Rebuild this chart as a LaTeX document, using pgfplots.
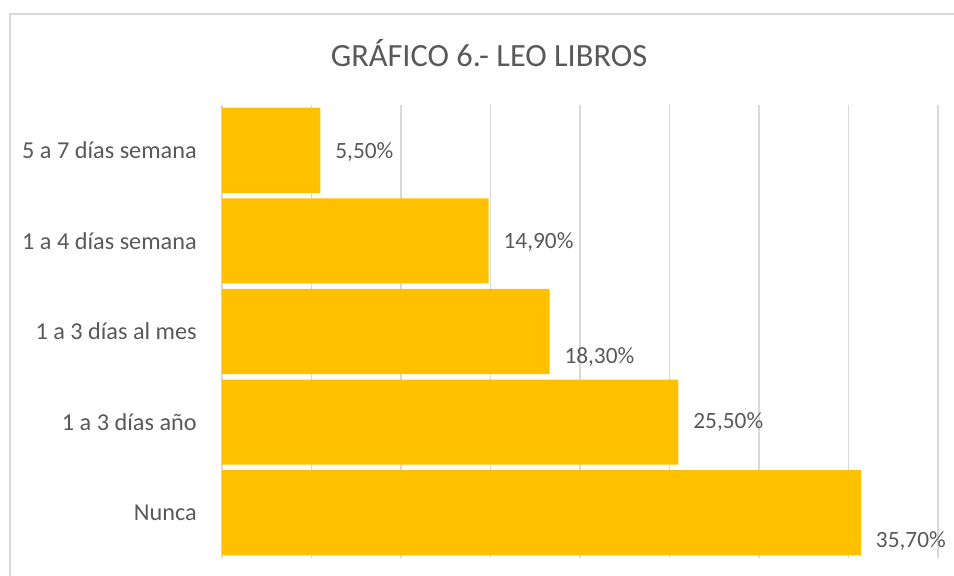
\documentclass[border=0pt]{standalone}
\usepackage{pgfplots}
\usepackage{pgfplotstable}
\pgfplotsset{compat=1.18}
\usepackage{fontspec}
\setmainfont{Carlito}
\definecolor{bargold}{HTML}{FFC000}
\definecolor{txtgray}{HTML}{595959}
\definecolor{gridgray}{HTML}{D9D9D9}

% pos 0 = Nunca (bottom) ... 4 = 5 a 7 dias (top); dy = label offset
\pgfplotstableread{
pos val dy
0 35.7 -21
1 25.5 0
2 18.3 -19
3 14.9 -1
4 5.5 -1.5
}\leo

\begin{document}
\begin{tikzpicture}
\useasboundingbox (-166.5bp,-13.5bp) rectangle (549bp,418.5bp);
\draw[gridgray, line width=1bp] (-159bp,-13.5bp) -- (-159bp,408bp) -- (549bp,408bp);
\node[anchor=base, text=txtgray, font=\fontsize{24.3bp}{28bp}\selectfont]
  at (200.25bp,368.25bp) {GRÁFICO 6.- LEO LIBROS};
\begin{axis}[
  at={(0,0)}, anchor=south west,
  scale only axis, width=537bp, height=339.75bp,
  xbar, bar width=0.94,
  xmin=0, xmax=40, ymin=-0.5, ymax=4.5,
  enlargelimits=false, clip=false,
  xtick={0,5,...,40}, xticklabels={},
  ytick={0,1,2,3,4},
  yticklabels={Nunca,1 a 3 días año,1 a 3 días al mes,1 a 4 días semana,5 a 7 días semana},
  major tick length=0pt,
  axis line style={draw=none},
  xmajorgrids, grid style={gridgray, line width=1bp},
  /pgf/number format/assume math mode=true,
  yticklabel style={text=txtgray, font=\fontsize{18.2bp}{20bp}\selectfont,
    anchor=east, inner sep=0pt, xshift=-18.75bp},
  point meta=x,
  visualization depends on={\thisrow{dy} \as \dy},
  nodes near coords={\pgfmathprintnumber[fixed,fixed zerofill,precision=2,use comma]{\pgfplotspointmeta}\%},
  every node near coord/.append style={text=txtgray, font=\fontsize{17.5bp}{20bp}\selectfont,
    anchor=west, inner sep=0pt, xshift=11bp, yshift=\dy bp},
]
\addplot[fill=bargold, draw=none] table[x=val, y=pos] {\leo};
\end{axis}
\end{tikzpicture}
\end{document}
